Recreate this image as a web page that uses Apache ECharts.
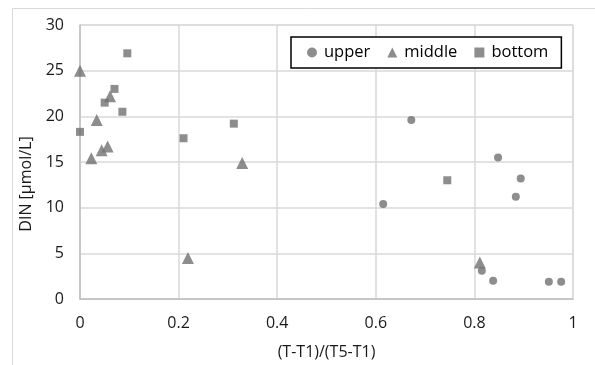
<!DOCTYPE html>
<html>
<head>
<meta charset="utf-8">
<script src="https://cdn.jsdelivr.net/npm/echarts@6/dist/echarts.min.js"></script>
<style>html,body{margin:0;padding:0;background:#fff;}#c{width:595px;height:365px;}</style>
</head>
<body>
<div id="c"></div>
<script>
var upperX = [0.615, 0.672, 0.848, 0.894, 0.884, 0.815, 0.838, 0.951, 0.976];
var upperY = [10.4, 19.6, 15.5, 13.2, 11.2, 3.1, 2.0, 1.9, 1.9];
var middleX = [0, 0.034, 0.023, 0.044, 0.056, 0.061, 0.219, 0.329, 0.811];
var middleY = [25.0, 19.6, 15.4, 16.3, 16.7, 22.2, 4.5, 14.9, 4.0];
var bottomX = [0, 0.05, 0.07, 0.086, 0.096, 0.21, 0.312, 0.745];
var bottomY = [18.3, 21.5, 23.0, 20.5, 26.9, 17.6, 19.2, 13.0];
var seriesNames = ['upper', 'middle', 'bottom'];
var xTicks = ['0', '0.2', '0.4', '0.6', '0.8', '1'];
var yTicks = ['0', '5', '10', '15', '20', '25', '30'];

function pairs(xs, ys) { return xs.map(function (x, i) { return [x, ys[i]]; }); }

var FONT = '"Open Sans", "Noto Sans", sans-serif';
var MARK = '#707070';
var TXT = '#1a1a1a';
var chart = echarts.init(document.getElementById('c'));
chart.setOption({
  animation: false,
  backgroundColor: '#fff',
  textStyle: { fontFamily: FONT },
  graphic: [{
    type: 'rect', silent: true, z: -10,
    shape: { x: 12.5, y: 8.5, width: 700, height: 500 },
    style: { fill: 'none', stroke: '#d9d9d9', lineWidth: 1 }
  }],
  grid: { left: 80, right: 22, top: 25, bottom: 65, show: true, borderColor: '#d9d9d9', borderWidth: 1 },
  legend: {
    left: 291, top: 37,
    padding: [7, 13, 7, 16],
    itemGap: 17,
    itemWidth: 10, itemHeight: 10,
    borderColor: '#000', borderWidth: 1.5,
    backgroundColor: '#fff',
    textStyle: { fontFamily: FONT, fontSize: 16.5, color: '#000', padding: [0, 0, 0, 2] },
    data: [
      { name: seriesNames[0], icon: 'circle' },
      { name: seriesNames[1], icon: 'triangle' },
      { name: seriesNames[2], icon: 'rect' }
    ]
  },
  xAxis: {
    type: 'value', min: 0, max: 1, interval: 0.2,
    name: '(T-T1)/(T5-T1)', nameLocation: 'middle', nameGap: 45,
    nameTextStyle: { fontFamily: FONT, fontSize: 16, color: TXT },
    axisLine: { show: true, lineStyle: { color: '#bfbfbf', width: 1.5 } },
    axisTick: { show: false },
    splitLine: { show: true, lineStyle: { color: '#d9d9d9', width: 1.5 } },
    axisLabel: { fontFamily: FONT, fontSize: 16, color: TXT, margin: 16,
      formatter: function (v) { return xTicks[Math.round(v / 0.2)]; } }
  },
  yAxis: {
    type: 'value', min: 0, max: 30, interval: 5,
    name: 'DIN [μmol/L]', nameLocation: 'middle', nameGap: 46,
    nameTextStyle: { fontFamily: FONT, fontSize: 16, color: TXT, padding: [0, 44, 0, 0] },
    axisLine: { show: true, lineStyle: { color: '#bfbfbf', width: 1.5 } },
    axisTick: { show: false },
    splitLine: { show: true, lineStyle: { color: '#d9d9d9', width: 1.5 } },
    axisLabel: { fontFamily: FONT, fontSize: 16, color: TXT, margin: 16,
      formatter: function (v) { return yTicks[Math.round(v / 5)]; } }
  },
  series: [
    { name: seriesNames[0], type: 'scatter', symbol: 'circle', symbolSize: 8,
      itemStyle: { color: MARK }, data: pairs(upperX, upperY) },
    { name: seriesNames[1], type: 'scatter', symbol: 'triangle', symbolSize: 12,
      itemStyle: { color: MARK }, data: pairs(middleX, middleY) },
    { name: seriesNames[2], type: 'scatter', symbol: 'rect', symbolSize: 8,
      itemStyle: { color: MARK }, data: pairs(bottomX, bottomY) }
  ]
});
</script>
</body>
</html>
